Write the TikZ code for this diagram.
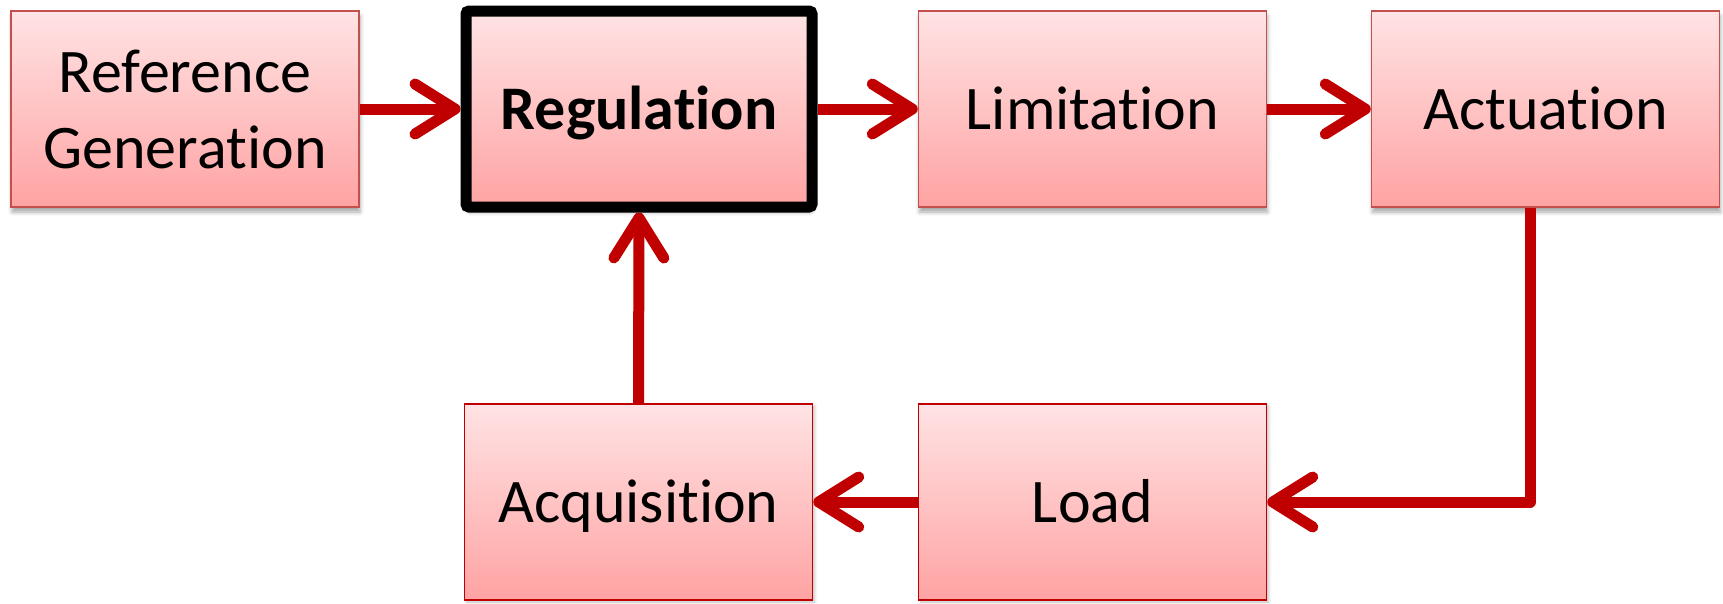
\documentclass[tikz,border=0pt]{standalone}
\usepackage{fontspec}
\setmainfont{Carlito}[Ligatures={NoCommon,NoContextual}]
\usetikzlibrary{arrows.meta,shadows.blur}
\definecolor{arr}{HTML}{C00000}
\definecolor{bordA}{HTML}{C4504D}
\definecolor{bordB}{HTML}{C00000}
\definecolor{pinkT}{HTML}{FFE3E4}
\definecolor{pinkB}{HTML}{FFA3A3}
\tikzset{
  blk/.style={rectangle, minimum width=348pt, minimum height=196pt, inner sep=0pt,
    top color=pinkT, bottom color=pinkB, align=center,
    font=\fontsize{62}{76}\selectfont},
  oneline/.style={text height=40pt, text depth=0pt},
  topblk/.style={blk, draw=bordA, line width=1.5pt,
    blur shadow={shadow xshift=1pt, shadow yshift=-5pt, shadow blur radius=4pt, shadow opacity=35}},
  botblk/.style={blk, draw=bordB, line width=1.5pt,
    blur shadow={shadow xshift=2pt, shadow yshift=-2pt, shadow blur radius=3pt, shadow opacity=25}},
  regblk/.style={blk, draw=black, line width=11pt, rounded corners=3pt, minimum width=346pt,
    font=\fontsize{62}{76}\selectfont\bfseries,
    blur shadow={shadow xshift=1pt, shadow yshift=-5pt, shadow blur radius=4pt, shadow opacity=35}},
  conn/.style={draw=arr, line width=11pt, line join=round,
    -{Straight Barb[length=40pt, width=50pt, round]}}
}
\begin{document}
\begin{tikzpicture}[x=1pt, y=-1pt]
\useasboundingbox (0,0) rectangle (1723,603);
\node[topblk] (ref) at (185,109) {Reference\\Generation};
\node[regblk, oneline] (reg) at (639,109) {Regulation};
\node[topblk, oneline] (lim) at (1092.5,109) {Limitation};
\node[topblk, oneline] (act) at (1545.5,109) {Actuation};
\node[botblk, oneline] (acq) at (638.5,502) {Acquisition};
\node[botblk, oneline] (load) at (1092.5,502) {Load};
\coordinate (turn) at (1530,502);
\draw[conn] (ref.east) -- (reg.west);
\draw[conn] (reg.east) -- (lim.west);
\draw[conn] (lim.east) -- (act.west);
\draw[conn] (act.south -| turn) |- (load.east);
\draw[conn] (load.west) -- (acq.east);
\draw[conn] (acq.north) -- (reg.south);
\end{tikzpicture}
\end{document}
